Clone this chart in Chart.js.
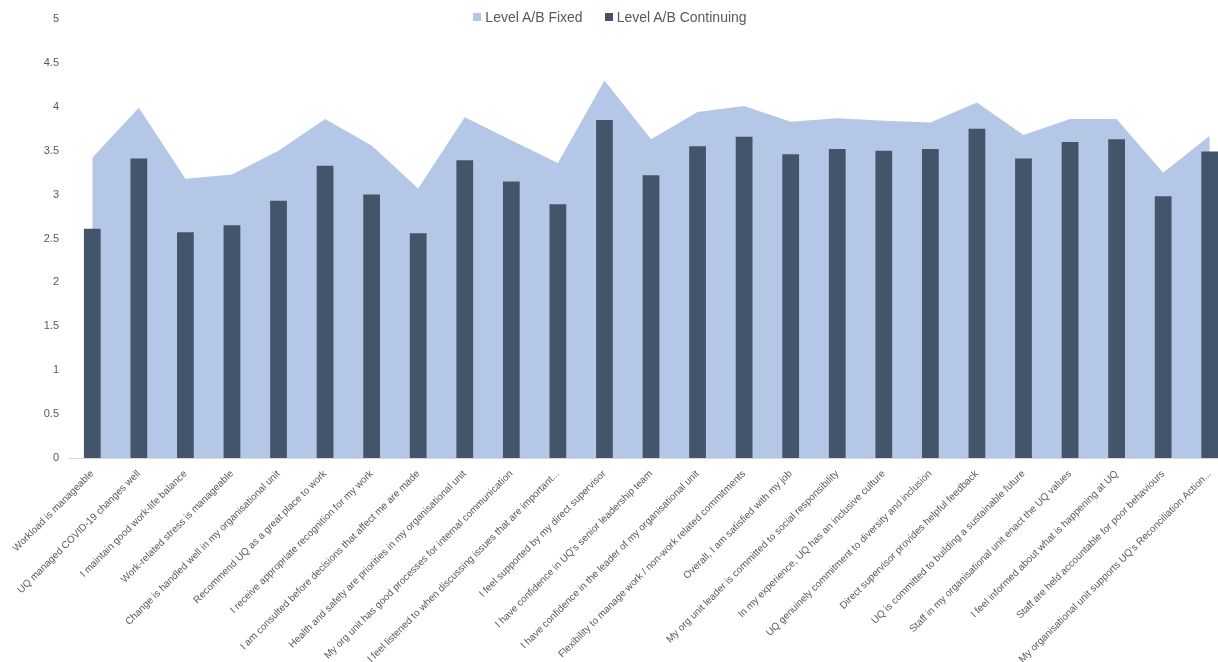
<!DOCTYPE html>
<html>
<head>
<meta charset="utf-8">
<title>Level A/B Fixed vs Continuing</title>
<script src="https://cdn.jsdelivr.net/npm/chart.js@4.4.0/dist/chart.umd.min.js"></script>
<style>
    html, body { margin: 0; padding: 0; background: #fff; overflow: hidden; }
    #wrap { position: relative; width: 1240px; height: 662px; }
    #legend {
        position: absolute; top: 9px; left: 0; width: 1220px;
        display: flex; justify-content: center; align-items: center;
        font: 14px "Liberation Sans", Arial, sans-serif; color: #595959;
    }
    #legend .item { display: flex; align-items: center; margin: 0 11px; }
    #legend .box { width: 8px; height: 8px; margin-right: 4px; }
</style>
</head>
<body>
<div id="wrap">
    <canvas id="surveyChart" width="1240" height="662"></canvas>
    <div id="legend"></div>
</div>
<script>
// Survey questions (x axis)
const questions = [
    'Workload is manageable',
    'UQ managed COVID-19 changes well',
    'I maintain good work-life balance',
    'Work-related stress is manageable',
    'Change is handled well in my organisational unit',
    'Recommend UQ as a great place to work',
    'I receive appropriate recognition for my work',
    'I am consulted before decisions that affect me are made',
    'Health and safety are priorities in my organisational unit',
    'My org unit has good processes for internal communication',
    'I feel listened to when discussing issues that are important...',
    'I feel supported by my direct supervisor',
    "I have confidence in UQ's senior leadership team",
    'I have confidence in the leader of my organisational unit',
    'Flexibility to manage work / non-work related commitments',
    'Overall, I am satisfied with my job',
    'My org unit leader is committed to social responsibility',
    'In my experience, UQ has an inclusive culture',
    'UQ genuinely commitment to diversity and inclusion',
    'Direct supervisor provides helpful feedback',
    'UQ is committed to building a sustainable future',
    'Staff in my organisational unit enact the UQ values',
    'I feel informed about what is happening at UQ',
    'Staff are held accountable for poor behaviours',
    "My organisational unit supports UQ's Reconciliation Action..."
];

// Mean scores per group
const fixedScores = [3.42, 3.99, 3.18, 3.23, 3.50, 3.86, 3.56, 3.07, 3.88, 3.62, 3.36, 4.30, 3.63,
                     3.94, 4.01, 3.83, 3.87, 3.84, 3.82, 4.05, 3.68, 3.86, 3.86, 3.25, 3.67];
const continuingScores = [2.61, 3.41, 2.57, 2.65, 2.93, 3.33, 3.00, 2.56, 3.39, 3.15, 2.89, 3.85, 3.22,
                          3.55, 3.66, 3.46, 3.52, 3.50, 3.52, 3.75, 3.41, 3.60, 3.63, 2.98, 3.49];

const yMin = 0;
const yMax = 5;
const yStep = 0.5;

const FONT = '"Liberation Sans", Arial, sans-serif';
const TEXT_COLOR = '#595959';

const ctx = document.getElementById('surveyChart').getContext('2d');
const chart = new Chart(ctx, {
    data: {
        labels: questions,
        datasets: [
            {
                type: 'line',
                label: 'Level A/B Fixed',
                data: fixedScores,
                fill: 'origin',
                backgroundColor: '#b4c7e7',
                borderWidth: 0,
                pointRadius: 0,
                tension: 0,
                order: 2
            },
            {
                type: 'bar',
                label: 'Level A/B Continuing',
                data: continuingScores,
                backgroundColor: '#44546a',
                borderWidth: 0,
                categoryPercentage: 1,
                barPercentage: 0.36,
                order: 1
            }
        ]
    },
    options: {
        responsive: false,
        animation: false,
        devicePixelRatio: 1,
        layout: { padding: { top: 19, left: 0, right: 7, bottom: 0 } },
        plugins: {
            legend: { display: false },
            tooltip: { enabled: false }
        },
        scales: {
            x: {
                offset: true,
                grid: { display: false },
                border: { display: true, color: '#d9d9d9', width: 1 },
                ticks: {
                    autoSkip: false,
                    maxRotation: 45,
                    minRotation: 45,
                    padding: 2,
                    color: TEXT_COLOR,
                    font: { family: FONT, size: 10 }
                },
                afterFit: (scale) => { scale.height = 204; }
            },
            y: {
                min: yMin,
                max: yMax,
                grid: { display: false, drawTicks: false },
                border: { display: false },
                ticks: {
                    stepSize: yStep,
                    padding: 10,
                    color: TEXT_COLOR,
                    font: { family: FONT, size: 11 },
                    callback: (value) => String(Number(value.toFixed(1)))
                },
                afterFit: (scale) => { scale.width = 69; }
            }
        }
    }
});

// Legend built from the chart's own datasets
const legendEl = document.getElementById('legend');
chart.data.datasets.forEach((ds) => {
    const item = document.createElement('div');
    item.className = 'item';
    const box = document.createElement('span');
    box.className = 'box';
    box.style.background = ds.backgroundColor;
    const text = document.createElement('span');
    text.textContent = ds.label;
    item.appendChild(box);
    item.appendChild(text);
    legendEl.appendChild(item);
});
</script>
</body>
</html>
